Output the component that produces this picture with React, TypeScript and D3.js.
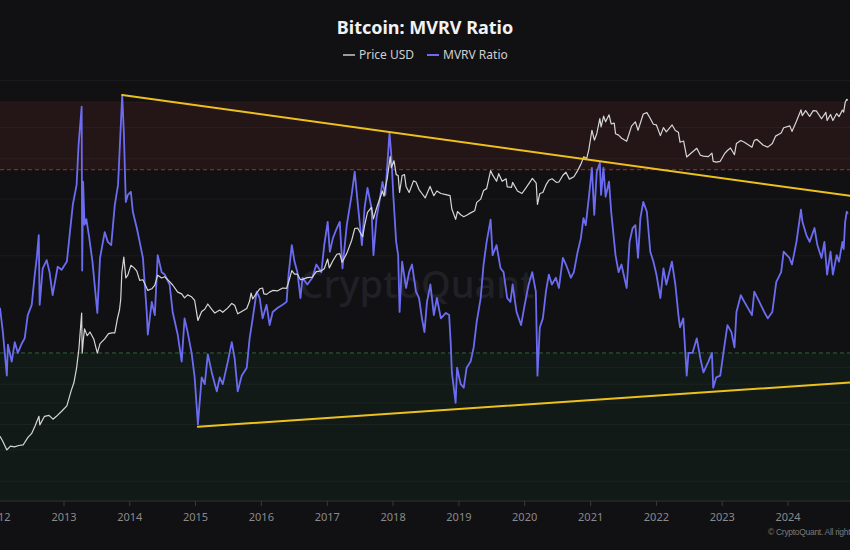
import React from "react";
import * as d3 from "d3";

const WIDTH = 850;
const HEIGHT = 550;
const PLOT_BOTTOM = 501;

const yearTicks = [2012, 2013, 2014, 2015, 2016, 2017, 2018, 2019, 2020, 2021, 2022, 2023, 2024];
const mvrvGrid = [0.4, 0.5, 0.6, 0.7, 0.8, 0.9, 2, 3, 4, 5, 6, 7];
const redZone = [3.7, 6];
const greenLevel = 1;

// [date, MVRV]
const mvrvSeries: [string, number][] = [
  ["2012-01-12", 1.38], ["2012-01-28", 1.16], ["2012-02-19", 0.85], ["2012-02-25", 1.06], ["2012-03-17", 0.94],
  ["2012-04-03", 1.08], ["2012-04-20", 1.0], ["2012-05-12", 1.07], ["2012-05-28", 1.11], ["2012-06-14", 1.31],
  ["2012-07-06", 1.41], ["2012-07-23", 1.75], ["2012-08-03", 1.97], ["2012-08-14", 2.32], ["2012-08-19", 1.41],
  ["2012-09-05", 1.83], ["2012-09-27", 1.94], ["2012-10-13", 1.78], ["2012-10-30", 1.51], ["2012-11-27", 1.85],
  ["2012-12-19", 1.81], ["2013-01-17", 1.92], ["2013-02-03", 2.37], ["2013-02-19", 2.88], ["2013-03-12", 3.32],
  ["2013-03-23", 4.42], ["2013-04-09", 5.8], ["2013-04-12", 1.8], ["2013-04-17", 3.4], ["2013-04-25", 2.5],
  ["2013-05-05", 2.6], ["2013-05-20", 2.3], ["2013-06-08", 1.92], ["2013-07-05", 1.33], ["2013-07-20", 1.97],
  ["2013-08-15", 2.37], ["2013-09-01", 2.21], ["2013-09-20", 2.16], ["2013-10-10", 2.88], ["2013-10-28", 3.32],
  ["2013-11-20", 6.31], ["2013-11-29", 4.85], ["2013-12-10", 2.94], ["2013-12-21", 3.09], ["2014-01-07", 3.16],
  ["2014-01-18", 2.74], ["2014-02-09", 2.44], ["2014-02-25", 2.21], ["2014-03-15", 1.97], ["2014-04-05", 1.34],
  ["2014-04-11", 1.14], ["2014-05-03", 1.44], ["2014-05-20", 1.31], ["2014-06-05", 2.01], ["2014-06-27", 1.78],
  ["2014-07-14", 1.75], ["2014-08-10", 1.63], ["2014-08-27", 1.34], ["2014-09-24", 1.14], ["2014-10-16", 0.94],
  ["2014-11-01", 1.28], ["2014-11-18", 1.16], ["2014-12-10", 1.0], ["2014-12-27", 0.84], ["2015-01-14", 0.6],
  ["2015-02-04", 0.84], ["2015-02-21", 0.8], ["2015-03-10", 0.99], ["2015-04-01", 0.87], ["2015-04-18", 0.8],
  ["2015-04-29", 0.76], ["2015-05-15", 0.84], ["2015-06-01", 0.8], ["2015-06-29", 0.94], ["2015-07-21", 1.08],
  ["2015-08-06", 0.96], ["2015-08-23", 0.76], ["2015-09-14", 0.85], ["2015-10-12", 0.9], ["2015-10-28", 1.11],
  ["2015-11-14", 1.28], ["2015-12-06", 1.55], ["2015-12-23", 1.48], ["2016-01-08", 1.28], ["2016-01-30", 1.41],
  ["2016-02-16", 1.22], ["2016-03-04", 1.34], ["2016-04-01", 1.38], ["2016-04-28", 1.41], ["2016-05-20", 1.44],
  ["2016-05-31", 1.75], ["2016-06-18", 2.16], ["2016-07-03", 1.92], ["2016-07-19", 1.78], ["2016-08-05", 1.48],
  ["2016-08-16", 1.71], ["2016-09-12", 1.63], ["2016-10-10", 1.71], ["2016-11-01", 1.88], ["2016-11-29", 1.78],
  ["2016-12-15", 2.16], ["2017-01-03", 2.55], ["2017-01-15", 2.06], ["2017-02-01", 2.27], ["2017-02-23", 2.44],
  ["2017-03-11", 2.55], ["2017-03-26", 1.83], ["2017-04-19", 2.49], ["2017-05-16", 3.09], ["2017-06-02", 3.65],
  ["2017-06-18", 2.94], ["2017-07-12", 2.16], ["2017-07-27", 2.82], ["2017-08-12", 3.25], ["2017-09-03", 2.82],
  ["2017-09-14", 2.01], ["2017-10-01", 2.62], ["2017-10-17", 2.94], ["2017-11-03", 3.39], ["2017-11-19", 3.09],
  ["2017-11-30", 3.83], ["2017-12-12", 4.82], ["2017-12-22", 4.11], ["2018-01-02", 3.09], ["2018-01-18", 2.21],
  ["2018-01-29", 2.01], ["2018-02-06", 1.34], ["2018-02-20", 1.92], ["2018-03-14", 1.59], ["2018-03-31", 1.78],
  ["2018-04-16", 1.88], ["2018-05-08", 1.55], ["2018-05-25", 1.48], ["2018-06-10", 1.28], ["2018-06-24", 1.16],
  ["2018-07-08", 1.44], ["2018-07-27", 1.63], ["2018-08-15", 1.31], ["2018-09-01", 1.48], ["2018-09-23", 1.28],
  ["2018-10-21", 1.33], ["2018-11-08", 1.31], ["2018-11-17", 1.06], ["2018-11-23", 0.87], ["2018-12-14", 0.7],
  ["2018-12-22", 0.9], ["2019-01-11", 0.8], ["2019-01-28", 0.78], ["2019-02-13", 0.9], ["2019-03-07", 0.94],
  ["2019-03-24", 1.04], ["2019-04-10", 1.25], ["2019-05-02", 1.48], ["2019-05-18", 1.88], ["2019-06-04", 2.21],
  ["2019-06-26", 2.59], ["2019-07-07", 2.01], ["2019-07-29", 2.16], ["2019-08-20", 1.83], ["2019-09-06", 1.78],
  ["2019-09-26", 1.48], ["2019-10-14", 1.44], ["2019-10-26", 1.63], ["2019-11-17", 1.34], ["2019-12-12", 1.22],
  ["2020-01-01", 1.41], ["2020-01-23", 1.63], ["2020-02-12", 1.78], ["2020-03-03", 1.55], ["2020-03-12", 0.85],
  ["2020-03-25", 1.2], ["2020-04-11", 1.28], ["2020-04-28", 1.55], ["2020-05-14", 1.75], ["2020-05-31", 1.63],
  ["2020-06-22", 1.71], ["2020-07-09", 1.59], ["2020-07-31", 1.97], ["2020-08-17", 1.88], ["2020-09-13", 1.71],
  ["2020-09-30", 1.78], ["2020-10-21", 2.06], ["2020-11-08", 2.27], ["2020-11-22", 2.62], ["2020-12-05", 2.49],
  ["2020-12-22", 3.03], ["2021-01-08", 3.75], ["2021-01-21", 2.68], ["2021-02-04", 3.65], ["2021-02-21", 3.89],
  ["2021-02-28", 3.09], ["2021-03-13", 3.75], ["2021-03-25", 3.05], ["2021-04-13", 3.4], ["2021-04-25", 2.74],
  ["2021-05-19", 2.01], ["2021-06-05", 1.78], ["2021-06-21", 1.88], ["2021-07-20", 1.59], ["2021-08-05", 2.21],
  ["2021-08-22", 2.44], ["2021-09-06", 2.49], ["2021-09-21", 1.97], ["2021-10-04", 2.62], ["2021-10-20", 2.94],
  ["2021-11-09", 2.74], ["2021-11-28", 2.06], ["2021-12-15", 1.92], ["2022-01-01", 1.75], ["2022-01-23", 1.48],
  ["2022-02-09", 1.83], ["2022-02-25", 1.63], ["2022-03-28", 1.92], ["2022-04-16", 1.63], ["2022-05-03", 1.31],
  ["2022-05-12", 1.2], ["2022-05-30", 1.28], ["2022-06-18", 0.85], ["2022-06-28", 1.0], ["2022-07-20", 1.0],
  ["2022-08-13", 1.11], ["2022-09-02", 0.96], ["2022-09-19", 0.87], ["2022-10-16", 0.94], ["2022-11-05", 1.0],
  ["2022-11-12", 0.78], ["2022-11-29", 0.84], ["2022-12-21", 0.85], ["2023-01-14", 1.06], ["2023-01-30", 1.22],
  ["2023-02-21", 1.16], ["2023-03-10", 1.04], ["2023-03-21", 1.34], ["2023-04-14", 1.51], ["2023-05-04", 1.44],
  ["2023-06-15", 1.31], ["2023-06-28", 1.55], ["2023-07-26", 1.44], ["2023-08-22", 1.34], ["2023-09-11", 1.28],
  ["2023-10-06", 1.34], ["2023-10-28", 1.66], ["2023-11-24", 1.78], ["2023-12-08", 2.06], ["2024-01-09", 1.97],
  ["2024-01-23", 1.88], ["2024-02-17", 2.21], ["2024-03-13", 2.78], ["2024-03-21", 2.55], ["2024-04-12", 2.32],
  ["2024-04-30", 2.21], ["2024-05-27", 2.44], ["2024-06-12", 2.16], ["2024-07-05", 1.97], ["2024-07-21", 2.21],
  ["2024-08-05", 1.75], ["2024-08-24", 2.06], ["2024-09-06", 1.75], ["2024-09-27", 2.01], ["2024-10-10", 1.92],
  ["2024-10-29", 2.21], ["2024-11-05", 2.1], ["2024-11-13", 2.55], ["2024-11-22", 2.74], ["2024-11-28", 2.7],
];

// [date, price in USD]
const priceSeries: [string, number][] = [
  ["2012-01-12", 6.5], ["2012-01-28", 5.6], ["2012-02-19", 4.4], ["2012-03-10", 4.9], ["2012-04-01", 4.8],
  ["2012-04-25", 5.0], ["2012-05-20", 5.1], ["2012-06-15", 6.3], ["2012-07-05", 7.0], ["2012-07-25", 8.8],
  ["2012-08-15", 11.5], ["2012-08-20", 9.0], ["2012-09-15", 11.5], ["2012-10-10", 11.8], ["2012-11-01", 10.6],
  ["2012-11-20", 11.5], ["2012-12-19", 13.3], ["2013-01-17", 15.5], ["2013-02-10", 24], ["2013-02-25", 30],
  ["2013-03-12", 46], ["2013-03-25", 80], ["2013-04-09", 220], ["2013-04-12", 70], ["2013-04-17", 95],
  ["2013-04-25", 140], ["2013-05-10", 115], ["2013-05-25", 128], ["2013-06-15", 105], ["2013-07-05", 70],
  ["2013-07-20", 92], ["2013-08-15", 105], ["2013-09-05", 122], ["2013-09-25", 125], ["2013-10-10", 125],
  ["2013-10-25", 190], ["2013-11-05", 240], ["2013-11-12", 330], ["2013-11-18", 700], ["2013-11-29", 1090],
  ["2013-12-10", 600], ["2013-12-21", 650], ["2014-01-07", 860], ["2014-01-25", 800], ["2014-02-09", 730],
  ["2014-02-25", 560], ["2014-03-15", 570], ["2014-04-05", 450], ["2014-04-11", 420], ["2014-05-03", 440],
  ["2014-05-20", 490], ["2014-06-05", 650], ["2014-06-27", 600], ["2014-07-14", 620], ["2014-08-10", 540],
  ["2014-08-27", 490], ["2014-09-24", 400], ["2014-10-16", 380], ["2014-11-01", 340], ["2014-11-18", 370],
  ["2014-12-10", 350], ["2014-12-27", 315], ["2015-01-14", 178], ["2015-02-04", 230], ["2015-02-21", 245],
  ["2015-03-10", 285], ["2015-04-01", 245], ["2015-04-18", 220], ["2015-05-15", 240], ["2015-06-01", 225],
  ["2015-06-29", 255], ["2015-07-21", 290], ["2015-08-06", 275], ["2015-08-23", 215], ["2015-09-14", 230],
  ["2015-10-12", 250], ["2015-10-28", 310], ["2015-11-05", 390], ["2015-11-14", 330], ["2015-12-06", 390],
  ["2015-12-23", 440], ["2016-01-08", 450], ["2016-01-15", 380], ["2016-01-30", 375], ["2016-02-16", 400],
  ["2016-03-04", 420], ["2016-04-01", 415], ["2016-04-28", 450], ["2016-05-20", 445], ["2016-05-31", 530],
  ["2016-06-18", 740], ["2016-07-03", 670], ["2016-07-19", 670], ["2016-08-05", 570], ["2016-08-16", 575],
  ["2016-09-12", 605], ["2016-10-10", 615], ["2016-11-01", 720], ["2016-11-29", 735], ["2016-12-15", 780],
  ["2017-01-03", 1030], ["2017-01-12", 800], ["2017-02-01", 980], ["2017-02-23", 1180], ["2017-03-11", 1200],
  ["2017-03-24", 940], ["2017-04-19", 1210], ["2017-05-16", 1750], ["2017-06-02", 2450], ["2017-06-18", 2500],
  ["2017-07-16", 1950], ["2017-07-27", 2700], ["2017-08-12", 3900], ["2017-09-03", 4500], ["2017-09-14", 3250],
  ["2017-10-01", 4400], ["2017-10-17", 5600], ["2017-11-03", 7200], ["2017-11-12", 6200], ["2017-11-19", 8000],
  ["2017-11-30", 10500], ["2017-12-16", 19300], ["2017-12-22", 14000], ["2018-01-06", 17100], ["2018-01-18", 11500],
  ["2018-01-29", 11200], ["2018-02-06", 6900], ["2018-02-20", 11200], ["2018-03-05", 11500], ["2018-03-14", 8200],
  ["2018-03-31", 6900], ["2018-04-24", 9600], ["2018-05-08", 9300], ["2018-05-25", 7500], ["2018-06-10", 6700],
  ["2018-06-28", 5900], ["2018-07-25", 8200], ["2018-08-15", 6300], ["2018-09-01", 7200], ["2018-09-23", 6700],
  ["2018-10-21", 6500], ["2018-11-13", 6300], ["2018-11-23", 4300], ["2018-12-14", 3200], ["2018-12-24", 4000],
  ["2019-01-11", 3650], ["2019-01-28", 3450], ["2019-02-13", 3600], ["2019-03-07", 3850], ["2019-03-30", 4100],
  ["2019-04-10", 5200], ["2019-05-02", 5700], ["2019-05-18", 7300], ["2019-06-04", 7700], ["2019-06-26", 12900],
  ["2019-07-07", 11400], ["2019-07-29", 9500], ["2019-08-10", 11800], ["2019-08-29", 9500], ["2019-09-20", 10200],
  ["2019-09-26", 8100], ["2019-10-20", 8000], ["2019-10-26", 9200], ["2019-11-22", 7200], ["2019-12-17", 6700],
  ["2020-01-10", 8000], ["2020-02-13", 10300], ["2020-03-05", 9000], ["2020-03-12", 4900], ["2020-03-25", 6700],
  ["2020-04-11", 6900], ["2020-04-30", 8700], ["2020-05-14", 9800], ["2020-06-01", 10200], ["2020-06-25", 9200],
  ["2020-07-09", 9300], ["2020-07-31", 11300], ["2020-08-17", 12300], ["2020-09-05", 10100], ["2020-09-30", 10800],
  ["2020-10-21", 12900], ["2020-11-08", 15500], ["2020-11-24", 19100], ["2020-12-10", 18200], ["2020-12-22", 23500],
  ["2021-01-08", 40800], ["2021-01-22", 30800], ["2021-02-04", 37000], ["2021-02-21", 57000], ["2021-02-28", 45000],
  ["2021-03-14", 61000], ["2021-03-25", 52000], ["2021-04-13", 63500], ["2021-04-25", 49000], ["2021-05-12", 50000],
  ["2021-05-19", 37000], ["2021-06-05", 35500], ["2021-06-22", 32500], ["2021-07-20", 29800], ["2021-08-16", 46000],
  ["2021-09-06", 52000], ["2021-09-21", 40800], ["2021-10-20", 65000], ["2021-11-09", 67500], ["2021-11-28", 57000],
  ["2021-12-15", 48500], ["2022-01-01", 47500], ["2022-01-23", 35000], ["2022-02-09", 44000], ["2022-02-25", 39000],
  ["2022-03-29", 47500], ["2022-04-16", 40500], ["2022-05-03", 38500], ["2022-05-12", 29000], ["2022-06-01", 30000],
  ["2022-06-18", 19000], ["2022-07-10", 21000], ["2022-08-13", 24400], ["2022-09-02", 20000], ["2022-09-19", 19500],
  ["2022-10-16", 19200], ["2022-11-05", 21200], ["2022-11-12", 16800], ["2022-11-29", 16400], ["2022-12-21", 16800],
  ["2023-01-14", 20900], ["2023-01-30", 22900], ["2023-02-16", 24600], ["2023-03-10", 20300], ["2023-03-21", 28000],
  ["2023-04-14", 30400], ["2023-05-04", 29000], ["2023-06-15", 25100], ["2023-06-28", 30600], ["2023-07-13", 31400],
  ["2023-08-17", 26600], ["2023-09-11", 25200], ["2023-10-06", 27900], ["2023-10-24", 34500], ["2023-11-24", 37700],
  ["2023-12-08", 43800], ["2024-01-11", 46300], ["2024-01-23", 39500], ["2024-02-15", 51800], ["2024-03-13", 73000],
  ["2024-03-20", 62000], ["2024-04-08", 71600], ["2024-04-30", 60600], ["2024-05-20", 71400], ["2024-06-06", 71000],
  ["2024-07-05", 56700], ["2024-07-29", 68200], ["2024-08-05", 54000], ["2024-08-24", 64100], ["2024-09-06", 53900],
  ["2024-09-27", 65800], ["2024-10-10", 60300], ["2024-10-29", 72700], ["2024-11-05", 68500], ["2024-11-13", 90000],
  ["2024-11-22", 98900], ["2024-11-28", 95800],
];

// hand-drawn trend lines, in MVRV units
const trendUpper: [string, number][] = [["2013-11-20", 6.31], ["2024-12-10", 3.07]];
const trendLower: [string, number][] = [["2015-01-14", 0.59], ["2024-12-10", 0.81]];

const parse = d3.timeParse("%Y-%m-%d");

export default function App() {
  const x = d3
    .scaleTime()
    .domain([new Date(2012, 0, 12), new Date(2024, 11, 10)])
    .range([0, WIDTH]);
  const yMvrv = d3.scaleLog().domain([0.5, 6]).range([450, 102]);
  const yPrice = d3.scaleLog().domain([1, 100000]).range([501.8, 98.9]);

  const mvrvLine = d3
    .line<[string, number]>()
    .x((d) => x(parse(d[0])!))
    .y((d) => yMvrv(d[1]));
  const priceLine = d3
    .line<[string, number]>()
    .x((d) => x(parse(d[0])!))
    .y((d) => yPrice(d[1]));

  const font = "'Noto Sans', 'Open Sans', sans-serif";

  return (
    <div style={{ position: "fixed", left: 0, top: 0, width: WIDTH, height: HEIGHT }}>
      <svg width={WIDTH} height={HEIGHT} style={{ display: "block", background: "#111114" }}>
        <defs>
          <clipPath id="plot">
            <rect x={0} y={0} width={WIDTH} height={PLOT_BOTTOM} />
          </clipPath>
        </defs>

        <text x={425} y={34} textAnchor="middle" fill="#f2f2f2" fontFamily={font} fontWeight={700} fontSize={18}>
          Bitcoin: MVRV Ratio
        </text>

        <g fontFamily={font} fontSize={12} fill="#cfcfcf">
          <line x1={343} x2={355} y1={55} y2={55} stroke="#9a9a9a" strokeWidth={2} />
          <text x={359} y={59}>Price USD</text>
          <line x1={427} x2={439} y1={55} y2={55} stroke="#6c6cf2" strokeWidth={2} />
          <text x={443} y={59}>MVRV Ratio</text>
        </g>

        {/* zones */}
        <rect
          x={0}
          y={yMvrv(redZone[1])}
          width={WIDTH}
          height={yMvrv(redZone[0]) - yMvrv(redZone[1])}
          fill="#241517"
        />
        <rect
          x={0}
          y={yMvrv(greenLevel)}
          width={WIDTH}
          height={PLOT_BOTTOM - yMvrv(greenLevel)}
          fill="#121a17"
        />

        {mvrvGrid.map((v) => (
          <line key={v} x1={0} x2={WIDTH} y1={yMvrv(v)} y2={yMvrv(v)} stroke="#ffffff" strokeOpacity={0.045} />
        ))}

        <line
          x1={0}
          x2={WIDTH}
          y1={yMvrv(redZone[0])}
          y2={yMvrv(redZone[0])}
          stroke="#a82a2a"
          strokeWidth={1}
          strokeDasharray="4 3"
        />
        <line
          x1={0}
          x2={WIDTH}
          y1={yMvrv(greenLevel)}
          y2={yMvrv(greenLevel)}
          stroke="#2f6236"
          strokeWidth={1}
          strokeDasharray="4 3"
        />

        <text x={417} y={298} textAnchor="middle" fill="#202026" fontFamily={font} fontWeight={500} fontSize={38}>
          CryptoQuant
        </text>

        <g clipPath="url(#plot)" fill="none" strokeLinejoin="round">
          <path d={mvrvLine(mvrvSeries) || ""} stroke="#6c6cf2" strokeWidth={1.8} />
          <path d={priceLine(priceSeries) || ""} stroke="#d6d6d6" strokeWidth={1.2} />
          {[trendUpper, trendLower].map((t, i) => (
            <path key={i} d={mvrvLine(t) || ""} stroke="#ecc11f" strokeWidth={2} strokeLinecap="round" />
          ))}
        </g>

        {/* x axis */}
        <line x1={0} x2={WIDTH} y1={PLOT_BOTTOM} y2={PLOT_BOTTOM} stroke="#2e3431" />
        <g fontFamily={font} fontSize={11} fill="#8a8a8a">
          {yearTicks.map((yr) => {
            const tx = x(new Date(yr, 0, 1));
            return (
              <g key={yr}>
                <line x1={tx} x2={tx} y1={PLOT_BOTTOM} y2={PLOT_BOTTOM + 5} stroke="#3a3a3a" />
                <text x={tx} y={521} textAnchor="middle">
                  {yr}
                </text>
              </g>
            );
          })}
        </g>

        <text
          x={768}
          y={535}
          fill="#7a7a7a"
          fontFamily="'Liberation Sans', Arial, sans-serif"
          fontSize={8.5}
          letterSpacing={-0.3}
        >
          © CryptoQuant. All rights reserved.
        </text>
      </svg>
    </div>
  );
}
